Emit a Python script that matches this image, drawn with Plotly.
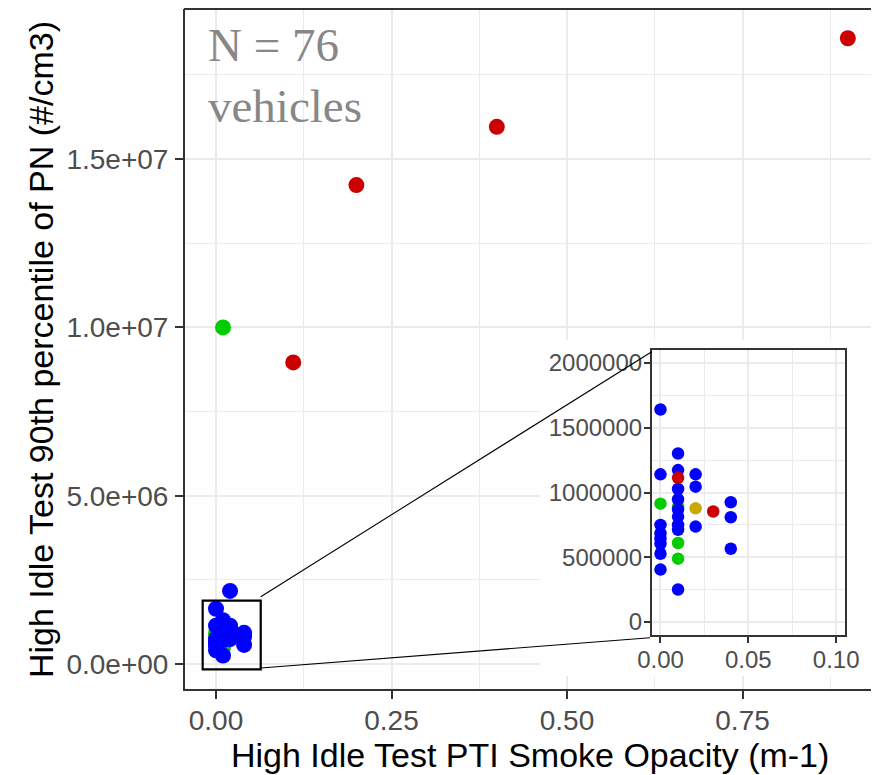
import plotly.graph_objects as go

# ---------------- data ----------------
opacity = [0.11, 0.20, 0.40, 0.90, 0.01,
           0.00, 0.00, 0.00, 0.00, 0.00, 0.00, 0.00, 0.00, 0.00,
           0.01, 0.01, 0.01, 0.01, 0.01, 0.01, 0.01, 0.01, 0.01, 0.01, 0.01, 0.01, 0.01,
           0.02, 0.02, 0.02, 0.02, 0.02,
           0.03,
           0.04, 0.04, 0.04]
pn = [8.96e6, 1.423e7, 1.596e7, 1.859e7, 1.0e7,
      1641000, 1140000, 914000, 750000, 686000, 645000, 604000, 527000, 405000,
      1301000, 1173000, 1114000, 1027000, 948000, 891000, 814000, 750000, 712000, 610000, 489000, 251000, 870000,
      2170000, 1140000, 1045000, 878000, 737000,
      853000,
      925000, 809000, 566000]
group = ["red", "red", "red", "red", "green",
         "blue", "blue", "green", "blue", "blue", "blue", "blue", "blue", "blue",
         "blue", "blue", "red", "blue", "blue", "green", "blue", "blue", "blue", "green", "green", "blue", "blue",
         "blue", "blue", "blue", "gold", "blue",
         "red",
         "blue", "blue", "blue"]

group_colors = {"red": "#CC0000", "green": "#00CC00", "blue": "#0000FF", "gold": "#C9A800"}

main_order = {"green": 0, "gold": 1, "red": 2, "blue": 3}
inset_order = {"green": 0, "gold": 1, "blue": 2, "red": 3}

x_ticks_main = [0.0, 0.25, 0.5, 0.75]
x_ticklabels_main = ["0.00", "0.25", "0.50", "0.75"]
y_ticks_main = [0, 5e6, 1e7, 1.5e7]
y_ticklabels_main = ["0.0e+00", "5.0e+06", "1.0e+07", "1.5e+07"]
x_ticks_inset = [0.0, 0.05, 0.10]
x_ticklabels_inset = ["0.00", "0.05", "0.10"]
y_ticks_inset = [0, 500000, 1000000, 1500000, 2000000]
y_ticklabels_inset = ["0", "500000", "1000000", "1500000", "2000000"]

x_title = "High Idle Test PTI Smoke Opacity (m-1)"
y_title = "High Idle Test 90th percentile of PN (#/cm3)"
note_text = "N = 76<br>vehicles"


def ordered(order):
    idx = sorted(range(len(opacity)), key=lambda i: order[group[i]])
    return ([opacity[i] for i in idx], [pn[i] for i in idx],
            [group_colors[group[i]] for i in idx])


fig = go.Figure()

mx, my, mc = ordered(main_order)
fig.add_trace(go.Scatter(x=mx, y=my, mode="markers", xaxis="x", yaxis="y",
                         marker=dict(size=16, color=mc, line=dict(width=0)),
                         showlegend=False, hoverinfo="skip"))
ix, iy, ic = ordered(inset_order)
fig.add_trace(go.Scatter(x=ix, y=iy, mode="markers", xaxis="x2", yaxis="y2",
                         marker=dict(size=12.5, color=ic, line=dict(width=0)),
                         showlegend=False, hoverinfo="skip"))

FONT = "Liberation Sans, Arial, sans-serif"
GRID = "#EBEBEB"
LINE = "#333333"
TICKC = "#4D4D4D"

# the page body has an 8px margin; lay the figure out in screen coordinates
OFF = 8
W, H = 879 - OFF, 775 - OFF
L, R, T = 185 - OFF, 0, 1
B = H - (689 - OFF)
PW, PH = W - L - R, H - T - B


def px(xs):
    return (xs - OFF - L) / PW


def py(ys):
    return (H - B - (ys - OFF)) / PH


fig.update_layout(
    width=W, height=H,
    margin=dict(l=L, r=R, t=T, b=B, autoexpand=False),
    paper_bgcolor="white", plot_bgcolor="white",
    font=dict(family=FONT),
    xaxis=dict(domain=[0, 1], range=[-0.04416, 0.9444], tickmode="array",
               tickvals=x_ticks_main, ticktext=x_ticklabels_main, automargin=False,
               tickfont=dict(size=28, color=TICKC), ticks="outside", ticklen=8,
               tickwidth=1.5, tickcolor=LINE, ticklabelstandoff=-3,
               showgrid=True, gridcolor=GRID, gridwidth=2,
               minor=dict(tick0=0, dtick=0.125, showgrid=True, gridcolor=GRID, gridwidth=1.2, ticks=""),
               showline=True, linecolor=LINE, linewidth=2, mirror=False, zeroline=False),
    yaxis=dict(domain=[0, 1], range=[-0.7427e6, 19.46e6], tickmode="array",
               tickvals=y_ticks_main, ticktext=y_ticklabels_main, automargin=False,
               tickfont=dict(size=28, color=TICKC), ticks="outside", ticklen=8,
               tickwidth=1.5, tickcolor=LINE, ticklabelstandoff=1,
               showgrid=True, gridcolor=GRID, gridwidth=2,
               minor=dict(tick0=0, dtick=2.5e6, showgrid=True, gridcolor=GRID, gridwidth=1.2, ticks=""),
               showline=True, linecolor=LINE, linewidth=2, mirror=False, zeroline=False),
    xaxis2=dict(domain=[px(651.7), px(845)], anchor="y2", range=[-0.005, 0.105], tickmode="array",
                tickvals=x_ticks_inset, ticktext=x_ticklabels_inset, automargin=False,
                tickfont=dict(size=24, color=TICKC), ticks="outside", ticklen=6,
                tickwidth=1.5, tickcolor=LINE, ticklabelstandoff=-4,
                showgrid=True, gridcolor=GRID, gridwidth=1.6,
                minor=dict(tick0=0, dtick=0.025, showgrid=True, gridcolor=GRID, gridwidth=1, ticks=""),
                showline=True, linecolor=LINE, linewidth=1.5, mirror=True, zeroline=False),
    yaxis2=dict(domain=[py(635), py(350)], anchor="x2", range=[-0.1e6, 2.1e6], tickmode="array",
                tickvals=y_ticks_inset, ticktext=y_ticklabels_inset, automargin=False,
                tickfont=dict(size=24, color=TICKC), ticks="outside", ticklen=6,
                tickwidth=1.5, tickcolor=LINE, ticklabelstandoff=-3,
                showgrid=True, gridcolor=GRID, gridwidth=1.6,
                minor=dict(tick0=0, dtick=250000, showgrid=True, gridcolor=GRID, gridwidth=1, ticks=""),
                showline=True, linecolor=LINE, linewidth=1.5, mirror=True, zeroline=False),
    shapes=[
        # white backing behind the inset (hides main gridlines)
        dict(type="rect", xref="x", yref="y", x0=0.4615, x1=0.96, y0=-0.36e6, y1=9.63e6,
             fillcolor="white", line=dict(width=0), layer="between"),
        # top border of the main panel
        dict(type="line", xref="paper", yref="paper", x0=px(184), x1=1.01, y0=py(8.8), y1=py(8.8),
             line=dict(color=LINE, width=2.5), layer="above"),
        # zoom rectangle on the main panel
        dict(type="rect", xref="x", yref="y", x0=-0.019, x1=0.0637, y0=-0.157e6, y1=1.881e6,
             line=dict(color="black", width=2.2), fillcolor="rgba(0,0,0,0)", layer="above"),
        # connector lines
        dict(type="line", xref="x", yref="y", x0=0.0637, y0=2.0e6, x1=0.6207, y1=9.278e6,
             line=dict(color="black", width=1.1), layer="above"),
        dict(type="line", xref="x", yref="y", x0=0.0637, y0=-0.119e6, x1=0.6182, y1=0.781e6,
             line=dict(color="black", width=1.1), layer="above"),
    ],
    annotations=[
        dict(text=note_text, xref="paper", yref="paper",
             x=px(206), y=py(17), xanchor="left", yanchor="top",
             align="left", showarrow=False,
             font=dict(family="Liberation Serif, Times New Roman, serif", size=47, color="#878787")),
        dict(text=x_title, xref="paper", yref="paper", x=px(530), y=py(755),
             xanchor="center", yanchor="middle", showarrow=False,
             font=dict(size=34, color="black")),
        dict(text=y_title, xref="paper", yref="paper", x=px(41), y=py(350),
             xanchor="center", yanchor="middle", showarrow=False, textangle=-90,
             font=dict(size=34, color="black")),
    ],
)

fig.write_html("out.html")
